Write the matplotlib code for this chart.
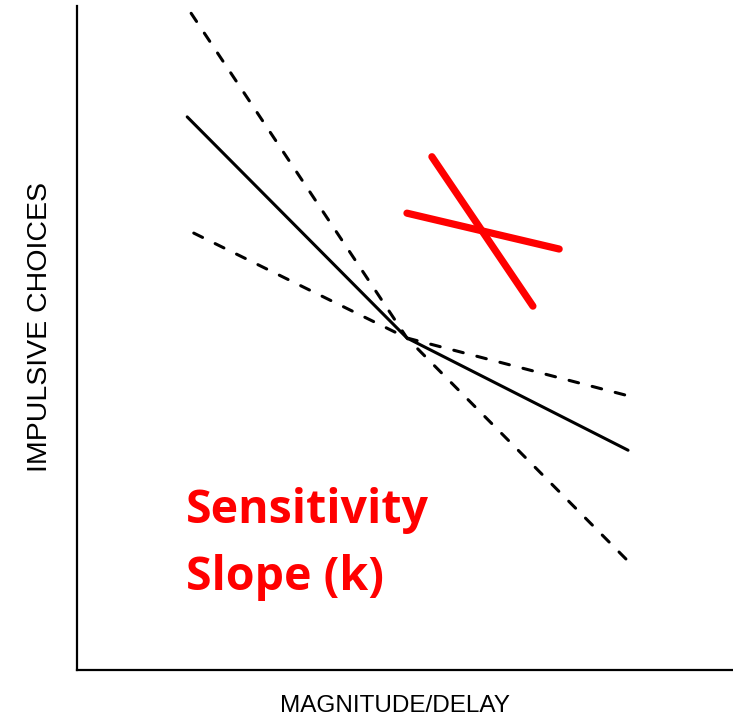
import matplotlib
matplotlib.use("Agg")
import matplotlib.pyplot as plt

# polylines in axis units (0-100 both ways); all three bend at the shared crossing point
solid_x = [16.8, 50.3, 84.0]
solid_y = [83.3, 50.0, 33.1]
steep_x = [17.4, 50.3, 84.0]
steep_y = [98.9, 50.0, 16.4]
shallow_x = [17.8, 50.3, 84.0]
shallow_y = [65.8, 50.0, 41.3]

# the red "X"
red1_x = [54.1, 69.5]
red1_y = [77.3, 54.8]
red2_x = [50.3, 73.5]
red2_y = [68.8, 63.4]

label_lines = ["Sensitivity", "Slope (k)"]

fig = plt.figure(figsize=(7.33, 7.2), dpi=100)
ax = fig.add_axes([77 / 733, 50 / 720, 656 / 733, 664 / 720])
ax.set_xlim(0, 100)
ax.set_ylim(0, 100)

ax.plot(solid_x, solid_y, color='black', lw=2.2,
        solid_capstyle='round', solid_joinstyle='round')
for xs, ys in [(steep_x, steep_y), (shallow_x, shallow_y)]:
    line, = ax.plot(xs, ys, color='black', lw=2.2, dash_capstyle='round')
    line.set_dashes((3.2, 4.6))

ax.plot(red1_x, red1_y, color='#ff0000', lw=5.2, solid_capstyle='round')
ax.plot(red2_x, red2_y, color='#ff0000', lw=5.2, solid_capstyle='round')

for txt, yb in zip(label_lines, [22.1, 12.0]):
    ax.text(16.6, yb, txt, color='#ff0000', fontsize=33.5, fontweight='bold',
            family='Open Sans', va='baseline', ha='left')

for side in ['top', 'right']:
    ax.spines[side].set_visible(False)
for side in ['left', 'bottom']:
    ax.spines[side].set_linewidth(1.6)
ax.set_xticks([])
ax.set_yticks([])

ax.set_xlabel("MAGNITUDE/DELAY", family='Liberation Sans', fontsize=17.5, va='center')
ax.xaxis.set_label_coords(0.485, -0.054)
ax.set_ylabel("IMPULSIVE CHOICES", family='Liberation Sans', fontsize=20.5, va='center')
ax.yaxis.set_label_coords(-0.056, 0.517)

fig.savefig("out.png", dpi=100)
